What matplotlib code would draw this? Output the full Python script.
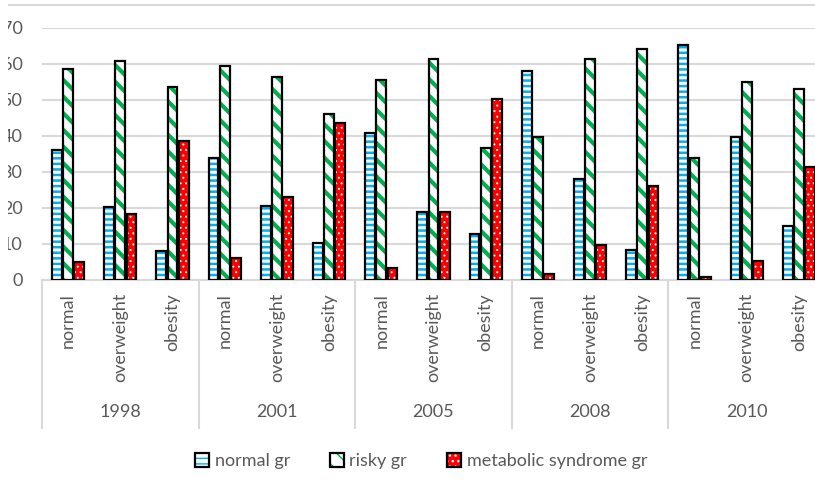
import matplotlib
matplotlib.use("Agg")
import matplotlib.pyplot as plt
import numpy as np
from matplotlib.patches import Patch, Rectangle
from matplotlib.lines import Line2D
from matplotlib.legend_handler import HandlerBase

years = ["1998", "2001", "2005", "2008", "2010"]
categories = ["normal", "overweight", "obesity"]
series_names = ["normal gr", "risky gr", "metabolic syndrome gr"]

normal_gr = [36.1, 20.2, 8.1, 33.9, 20.6, 10.3, 40.8, 18.9, 12.8, 58.1, 28.1, 8.3, 65.2, 39.8, 14.9]
risky_gr = [58.6, 60.9, 53.5, 59.4, 56.4, 46.1, 55.6, 61.4, 36.7, 39.8, 61.4, 64.2, 33.8, 54.9, 53.0]
metabolic_gr = [5.1, 18.3, 38.5, 6.1, 23.0, 43.6, 3.3, 18.9, 50.3, 1.7, 9.7, 26.2, 0.8, 5.2, 31.4]

yticks = [0, 10, 20, 30, 40, 50, 60, 70]

plt.rcParams['font.family'] = ['Lato', 'DejaVu Sans']
TXT = '#595959'
GRID = '#D9D9D9'

W, H = 815, 484
fig = plt.figure(figsize=(W / 100, H / 100), dpi=100)
left, right, top, bottom = 42, 825, 28, 280
ax = fig.add_axes([left / W, 1 - bottom / H, (right - left) / W, (bottom - top) / H])

n = len(normal_gr)
x = np.arange(n)
ax.set_xlim(-0.5, n - 0.5)
ax.set_ylim(0, 70)

styles = [
    dict(face='white', hatch='---', hcol='#00B0F0', hlw=1.8),
    dict(face='white', hatch='\\\\', hcol='#00B050', hlw=3.0),
    dict(face='#FF0000', hatch='...', hcol='white', hlw=0.7),
]
offsets = [-0.215, 0.0, 0.215]
bw = 0.19
for vals, st, off in zip([normal_gr, risky_gr, metabolic_gr], styles, offsets):
    with plt.rc_context({'hatch.linewidth': st['hlw']}):
        bars = ax.bar(x + off, vals, width=bw, color=st['face'], edgecolor=st['hcol'],
                      hatch=st['hatch'], linewidth=0, zorder=3)
        for b in bars:
            if hasattr(b, 'set_hatch_linewidth'):
                b.set_hatch_linewidth(st['hlw'])
    ax.bar(x + off, vals, width=bw, fill=False, edgecolor='black', linewidth=1.6, zorder=4)

ax.set_yticks(yticks)
ax.set_yticklabels([str(t) for t in yticks], color=TXT, fontsize=13)
ax.tick_params(axis='y', length=0, pad=14)
ax.grid(axis='y', color=GRID, linewidth=1.5, zorder=0)
ax.set_axisbelow(True)
for s in ['top', 'right', 'left']:
    ax.spines[s].set_visible(False)
ax.spines['bottom'].set_color(GRID)
ax.spines['bottom'].set_linewidth(1.5)
ax.set_xticks([])

# category labels
axh = bottom - top
for i in range(n):
    ax.text(i, -(293 - bottom) / axh, categories[i % 3], rotation=90, ha='center', va='top',
            fontsize=13, color=TXT, transform=ax.get_xaxis_transform())
# year labels and separators
for g, yr in enumerate(years):
    ax.text(g * 3 + 1, -(412 - bottom) / axh, yr, ha='center', va='center', fontsize=13,
            color=TXT, transform=ax.get_xaxis_transform())
for g in range(len(years) + 1):
    ax.plot([g * 3 - 0.5, g * 3 - 0.5], [0, -(428 - bottom) / axh], color=GRID, lw=1.5,
            transform=ax.get_xaxis_transform(), clip_on=False)

# top border line
fig.add_artist(Line2D([8 / W, 1], [1 - 5 / H, 1 - 5 / H], color=GRID, lw=1.5,
                      transform=fig.transFigure))
# left crop edge of the original picture
fig.add_artist(Rectangle((0, 0), 8 / W, 1, facecolor='white', edgecolor='none',
                         transform=fig.transFigure, zorder=10))

# legend
handles = []
for st in styles:
    handles.append(Patch(facecolor=st['face'], edgecolor=st['hcol'], hatch=st['hatch'], linewidth=0))


class HatchHandler(HandlerBase):
    def create_artists(self, legend, orig_handle, xdescent, ydescent, width, height, fontsize, trans):
        s = min(width, height)
        x0 = -xdescent + (width - s) / 2
        y0 = -ydescent + (height - s) / 2
        r1 = Rectangle((x0, y0), s, s, facecolor=orig_handle.get_facecolor(),
                       edgecolor=orig_handle.get_edgecolor(), hatch=orig_handle.get_hatch(),
                       linewidth=0, transform=trans)
        r2 = Rectangle((x0, y0), s, s, fill=False, edgecolor='black', linewidth=1.6, transform=trans)
        return [r1, r2]


leg = fig.legend(handles, series_names, loc='center', bbox_to_anchor=(421 / W, 1 - 461 / H),
                 ncol=3, frameon=False, fontsize=13, handler_map={Patch: HatchHandler()},
                 handlelength=0.8, handleheight=0.8, handletextpad=0.3, columnspacing=2.2)
for t in leg.get_texts():
    t.set_color(TXT)

fig.savefig("out.png", dpi=100)
